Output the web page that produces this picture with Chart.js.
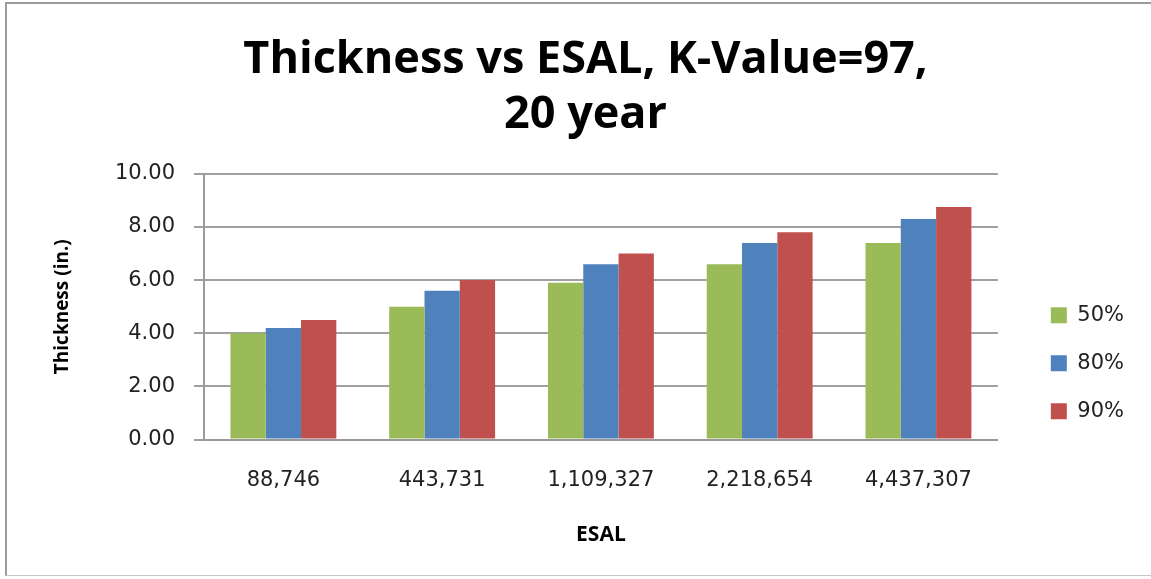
<!DOCTYPE html>
<html>
<head>
<meta charset="utf-8">
<script src="https://cdn.jsdelivr.net/npm/chart.js@4/dist/chart.umd.min.js"></script>
<style>
  html, body { margin: 0; padding: 0; background: #fff; }
  #frame {
    position: absolute; left: 5px; top: 2px; width: 1146px; height: 574px;
    border-left: 2px solid #9a9a9a; border-top: 2px solid #9a9a9a; border-bottom: 1px solid #c8c8c8;
    box-sizing: border-box;
  }
  #wrap { position: absolute; left: 0; top: 0; width: 1144px; height: 571px; }
</style>
</head>
<body>
<div id="frame"><div id="wrap"><canvas id="chart"></canvas></div></div>
<script>
// ESAL categories and thickness per reliability level
const esalLabels = ['88,746', '443,731', '1,109,327', '2,218,654', '4,437,307'];
const thick50 = [4.0, 5.0, 5.9, 6.6, 7.4];
const thick80 = [4.2, 5.6, 6.6, 7.4, 8.3];
const thick90 = [4.5, 6.0, 7.0, 7.8, 8.75];
const yTicks = [0, 2, 4, 6, 8, 10];

const tickFont = { family: 'DejaVu Sans', size: 21 };

const ctx = document.getElementById('chart').getContext('2d');

new Chart(ctx, {
    type: 'bar',
    data: {
        labels: esalLabels,
        datasets: [
            { label: '50%', data: thick50, backgroundColor: '#9bbb59' },
            { label: '80%', data: thick80, backgroundColor: '#4f81bd' },
            { label: '90%', data: thick90, backgroundColor: '#c0504d' }
        ]
    },
    options: {
        responsive: true,
        maintainAspectRatio: false,
        animation: false,
        layout: { padding: { left: 30, right: 17, top: 0, bottom: 27 } },
        datasets: {
            bar: { categoryPercentage: 0.667, barPercentage: 1.0 }
        },
        plugins: {
            title: {
                display: true,
                text: ['Thickness vs ESAL, K-Value=97,', '20 year'],
                color: '#000',
                font: { family: 'Open Sans', size: 45, weight: 'bold', lineHeight: 1.22 },
                padding: { top: 29, bottom: 31 }
            },
            legend: {
                position: 'right',
                // empty title only pushes the items down next to the plot
                title: { display: true, text: '', font: { size: 12 }, padding: { top: 160, bottom: 0 } },
                labels: {
                    color: '#222',
                    font: { family: 'DejaVu Sans', size: 21 },
                    boxWidth: 16,
                    boxHeight: 16,
                    padding: 27
                }
            },
            tooltip: { enabled: false }
        },
        scales: {
            x: {
                grid: { display: false },
                border: { color: '#9a9a9a', width: 2 },
                ticks: { color: '#222', font: tickFont, padding: 20 },
                title: {
                    display: true,
                    text: 'ESAL',
                    color: '#000',
                    font: { family: 'Open Sans', size: 21, weight: 'bold' },
                    padding: { top: 10, bottom: 0 }
                }
            },
            y: {
                min: 0,
                max: 10,
                afterBuildTicks: axis => { axis.ticks = yTicks.map(v => ({ value: v })); },
                afterFit: axis => { axis.width = 167; },
                grid: { color: '#a0a0a0', lineWidth: 2, tickLength: 10 },
                border: { color: '#9a9a9a', width: 2 },
                ticks: {
                    color: '#222',
                    font: tickFont,
                    padding: 19,
                    callback: v => v.toFixed(2)
                },
                title: {
                    display: true,
                    text: 'Thickness (in.)',
                    color: '#000',
                    font: { family: 'Open Sans', size: 19, weight: 'bold' },
                    padding: { top: 14, bottom: 0 }
                }
            },
            // empty spacer between plot and legend
            gap: {
                type: 'linear',
                position: 'right',
                display: true,
                grid: { display: false },
                border: { display: false },
                ticks: { display: false },
                afterFit: axis => { axis.width = 26; }
            }
        }
    }
});
</script>
</body>
</html>
